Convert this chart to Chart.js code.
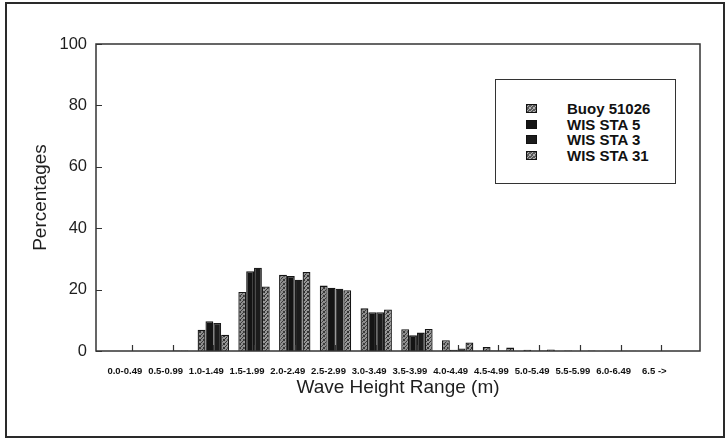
<!DOCTYPE html>
<html>
<head>
<meta charset="utf-8">
<script src="https://cdn.jsdelivr.net/npm/chart.js@4.4.1/dist/chart.umd.min.js"></script>
<style>
  html, body { margin: 0; padding: 0; background: #fff; }
  #wrap { position: relative; width: 727px; height: 439px; }
  canvas { display: block; }
  #legend {
    position: absolute; left: 495px; top: 79px; width: 181px; height: 105px;
    box-sizing: border-box; border: 1.5px solid #333; background: #fff;
    font: bold 15px "Liberation Sans", Arial, sans-serif; color: #111;
  }
  .item { position: absolute; left: 0; height: 16px; line-height: 16px; }
  .item canvas { position: absolute; left: 30px; top: 3px; }
  .item span { position: absolute; left: 71px; top: 0; white-space: nowrap; }
</style>
</head>
<body>
<div id="wrap">
  <canvas id="chart" width="727" height="439"></canvas>
  <div id="legend"></div>
</div>
<script>
// Wave height classes (m)
const categories = ['0.0-0.49', '0.5-0.99', '1.0-1.49', '1.5-1.99', '2.0-2.49', '2.5-2.99', '3.0-3.49',
                    '3.5-3.99', '4.0-4.49', '4.5-4.99', '5.0-5.49', '5.5-5.99', '6.0-6.49', '6.5 ->'];

// Occurrence (%) per class
const buoy51026 = [0, 0.1, 6.9, 19.2, 24.8, 21.3, 13.9, 7.1, 3.5, 1.3, 0.4, 0.2, 0.1, 0];
const wisSta5   = [0, 0,   9.7, 26.0, 24.4, 20.6, 12.6, 5.1, 0.4, 0.2, 0.1, 0,   0,   0];
const wisSta3   = [0, 0.2, 9.1, 27.1, 23.2, 20.3, 12.6, 6.0, 0.8, 0.2, 0.2, 0,   0.1, 0];
const wisSta31  = [0, 0.2, 5.3, 21.0, 25.7, 19.8, 13.5, 7.2, 2.8, 1.1, 0.5, 0.2, 0.1, 0];

const yTicks = [0, 20, 40, 60, 80, 100];

const FONT = '"Liberation Sans", Arial, Helvetica, sans-serif';

// Speckled grey fill used for the buoy and STA 31 bars
function stipple(base, dark) {
  const c = document.createElement('canvas');
  c.width = 4; c.height = 4;
  const g = c.getContext('2d');
  g.fillStyle = base; g.fillRect(0, 0, 4, 4);
  g.fillStyle = dark;
  [[0, 0], [2, 1], [1, 2], [3, 3], [3, 0], [0, 3]].forEach(([x, y]) => g.fillRect(x, y, 1, 1));
  return g.createPattern(c, 'repeat');
}

const series = [
  { label: 'Buoy 51026', values: buoy51026, fill: stipple('#8e8e8e', '#3a3a3a'), border: '#151515' },
  { label: 'WIS STA 5',  values: wisSta5,   fill: '#141414', border: '#141414' },
  { label: 'WIS STA 3',  values: wisSta3,   fill: '#1c1c1c', border: '#1c1c1c' },
  { label: 'WIS STA 31', values: wisSta31,  fill: stipple('#969696', '#333333'), border: '#151515' }
];

const datasets = series.map(s => ({
  label: s.label,
  data: s.values.map((v, i) => ({ x: i, y: v })),
  backgroundColor: s.fill,
  borderColor: s.border,
  borderWidth: 1.3,
  barPercentage: 1,
  categoryPercentage: 0.77
}));

// Frame around the figure, plot box and inward tick marks
const framePlugin = {
  id: 'frame',
  beforeDraw(chart) {
    const ctx = chart.ctx;
    ctx.save();
    ctx.fillStyle = '#fff';
    ctx.fillRect(0, 0, chart.width, chart.height);
    ctx.strokeStyle = '#2a2a2a';
    ctx.lineWidth = 2;
    ctx.strokeRect(6, 3, 718, 434);
    ctx.restore();
  },
  afterDatasetsDraw(chart) {
    const ctx = chart.ctx;
    const a = chart.chartArea;
    const xs = chart.scales.x, ys = chart.scales.y;
    ctx.save();
    ctx.strokeStyle = '#333';
    ctx.lineWidth = 1.5;
    ctx.strokeRect(a.left, a.top, a.right - a.left, a.bottom - a.top);
    ctx.lineWidth = 1.2;
    ctx.beginPath();
    categories.forEach((_, i) => {
      const px = Math.round(xs.getPixelForValue(i)) + 0.5;
      ctx.moveTo(px, a.bottom);
      ctx.lineTo(px, a.bottom - 6);
    });
    yTicks.forEach(v => {
      const py = Math.round(ys.getPixelForValue(v)) + 0.5;
      ctx.moveTo(a.left, py);
      ctx.lineTo(a.left + 6, py);
    });
    ctx.stroke();
    ctx.restore();
  }
};

const chart = new Chart(document.getElementById('chart'), {
  type: 'bar',
  data: { datasets },
  options: {
    responsive: false,
    animation: false,
    devicePixelRatio: 1,
    layout: { padding: { left: 0, top: 44, right: 27, bottom: 0 } },
    plugins: { legend: { display: false }, tooltip: { enabled: false } },
    scales: {
      x: {
        type: 'linear',
        offset: false,
        min: -0.88,
        max: 13.95,
        afterBuildTicks: s => { s.ticks = categories.map((_, i) => ({ value: i })); },
        afterFit: s => { s.height = 88; },
        grid: { display: false, drawTicks: false },
        border: { display: false },
        ticks: {
          autoSkip: false, maxRotation: 0, minRotation: 0,
          padding: 15, labelOffset: -7,
          color: '#111',
          font: { family: FONT, size: 9.5, weight: 'bold' },
          callback: v => categories[v]
        },
        title: {
          display: true, text: 'Wave Height Range (m)', color: '#1e1e1e',
          font: { family: FONT, size: 19 }, padding: { top: 0, bottom: 40 }
        }
      },
      y: {
        min: 0,
        max: 100,
        afterBuildTicks: s => { s.ticks = yTicks.map(v => ({ value: v })); },
        afterFit: s => { s.width = 96; },
        grid: { display: false, drawTicks: false },
        border: { display: false },
        ticks: { padding: 9, color: '#1e1e1e', font: { family: FONT, size: 16.5 } },
        title: {
          display: true, text: 'Percentages', color: '#1e1e1e',
          font: { family: FONT, size: 19 }, padding: { top: 29, bottom: 0 }
        }
      }
    }
  },
  plugins: [framePlugin]
});

// Legend built from the same series
const legend = document.getElementById('legend');
series.forEach((s, i) => {
  const item = document.createElement('div');
  item.className = 'item';
  item.style.top = (21 + i * 15.7) + 'px';
  const sw = document.createElement('canvas');
  sw.width = 11; sw.height = 9;
  const g = sw.getContext('2d');
  g.fillStyle = i === 0 || i === 3 ? stipple('#5a5a5a', '#b0b0b0') : s.fill;
  g.fillRect(0, 0, 11, 9);
  g.strokeStyle = '#111'; g.lineWidth = 1; g.strokeRect(0.5, 0.5, 10, 8);
  const txt = document.createElement('span');
  txt.textContent = s.label;
  item.appendChild(sw);
  item.appendChild(txt);
  legend.appendChild(item);
});
</script>
</body>
</html>
